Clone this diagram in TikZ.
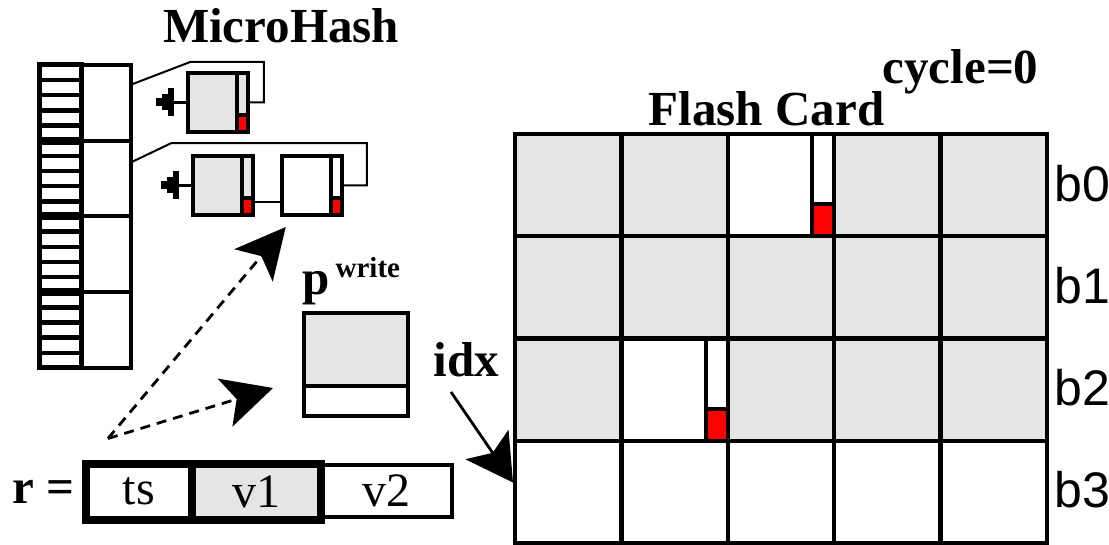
\documentclass[tikz,border=0pt]{standalone}
\usepackage{fontspec}
\setmainfont{Liberation Serif}
\newfontfamily\rowfont{Liberation Sans}
\usetikzlibrary{arrows.meta, calc, positioning}

\definecolor{cellgray}{HTML}{E5E5E5}
\definecolor{flagred}{HTML}{FF0000}

\tikzset{
  heading/.style={font=\fontsize{24.5}{28}\selectfont\bfseries, inner sep=0pt},
  flash/.style={draw, line width=2.2pt, fill=cellgray, minimum width=53.2pt, minimum height=51.15pt, inner sep=0pt, outer sep=0pt},
  bucket/.style={draw, line width=2pt, minimum width=24.75pt, minimum height=37.875pt, inner sep=0pt, outer sep=0pt},
  pagebox/.style={draw, line width=2pt, fill=cellgray, minimum width=30pt, minimum height=29.5pt, inner sep=0pt, outer sep=0pt},
  recfield/.style={draw, line width=4pt, minimum height=28pt, inner sep=0pt, outer sep=0pt, font=\fontsize{24}{28}\selectfont},
  rowlabel/.style={font=\rowfont\fontsize{25}{28}\selectfont, inner sep=0pt},
  chainline/.style={line width=1pt},
  nilbar/.style={line width=3pt},
  fetch/.style={line width=1.4pt, dash pattern=on 5pt off 3.5pt, -{Stealth[length=25pt, width=25pt, inset=6pt]}},
  idxarrow/.style={line width=1.4pt, -{Stealth[length=23pt, width=26pt, inset=5pt]}}
}

\begin{document}
\begin{tikzpicture}[x=0.5pt, y=-0.5pt]
  \fill[white] (0,0) rectangle (1109,545);
  \useasboundingbox (0,0) rectangle (1109,545);

  % Titles
  \node[heading, anchor=base] (mh) at (281,43) {MicroHash};
  \node[heading, anchor=base] (fc) at (766.5,126) {Flash Card};
  \node[heading, anchor=base] (cyc) at (960.5,84) {cycle=0};

  % Flash card: rows b0..b2 used, b3 empty
  \foreach \r in {0,1,2}
    \foreach \c in {0,...,4}
      \node[flash] (c\r\c) at ({568.2+106.4*\c},{185.15+102.3*\r}) {};
  \foreach \c in {0,...,4}
    \node[flash, fill=white] (c3\c) at ({568.2+106.4*\c},{185.15+102.3*3}) {};
  \foreach \r in {0,...,3}
    \node[rowlabel, right=3.5pt of c\r4, yshift=1pt] (lb\r) {b\r};

  % partly written pages with their flag strip
  \foreach \cell in {c02, c21} {
    \draw[line width=2.2pt, fill=white] (\cell.north west) rectangle (\cell.south east);
    \draw[line width=2.2pt] ($(\cell.north east)+(-22,0)$) -- ($(\cell.south east)+(-22,0)$);
    \draw[line width=2pt, fill=flagred] ($(\cell.south east)+(-22,-32)$) rectangle (\cell.south east);
  }

  % Hash directory
  \node[draw, line width=2.5pt, minimum width=20.75pt, minimum height=151.5pt, inner sep=0pt, outer sep=0pt] (keys) at (60.25,216.5) {};
  \foreach \k in {1,...,19}
    \draw[line width=2.2pt] ($(keys.north west)!\k/20!(keys.south west)$) -- ($(keys.north east)!\k/20!(keys.south east)$);
  \foreach \k in {5,10,15}
    \draw[line width=4pt] ($(keys.north west)!\k/20!(keys.south west)$) -- ($(keys.north east)!\k/20!(keys.south east)$);
  \foreach \i in {1,...,4}
    \node[bucket] (h\i) at (105.75,{65+75.75*(\i-0.5)}) {};

  % Index pages
  \node[pagebox] (pgA) at (217.75,102.5) {};
  \node[pagebox] (pgB) at (222.75,185.5) {};
  \node[pagebox, fill=white] (pgC) at (311.75,185.5) {};
  \foreach \p in {pgA,pgB,pgC} {
    \draw[line width=2pt] ($(\p.north east)+(-11,0)$) -- ($(\p.south east)+(-11,0)$);
    \draw[line width=2pt, fill=flagred] ($(\p.south east)+(-11,-17)$) rectangle (\p.south east);
  }
  \foreach \p in {pgA,pgB} {
    \draw[line width=1.3pt] (\p.west) -- ++(-17,0) coordinate (nil\p);
    \draw[nilbar] ($(nil\p)+(0,-14)$) -- ($(nil\p)+(0,14)$);
    \draw[nilbar] ($(nil\p)+(-6,-8)$) -- ($(nil\p)+(-6,8)$);
    \draw[nilbar] ($(nil\p)+(-12,-4)$) -- ($(nil\p)+(-12,4)$);
  }
  \draw[chainline] ($(pgB.east)+(0,17)$) -- ($(pgC.west)+(0,17)$);
  \draw[chainline] ($(h1.east)+(0,-18)$) -- ++(60,-23) -| ($(pgA.east)+(16,0)$) -- (pgA.east);
  \draw[chainline] ($(h2.east)+(0,-16)$) -- ++(41,-19.6) -| ($(pgC.east)+(25,0)$) -- (pgC.east);

  % Write buffer
  \node[draw, line width=2pt, fill=cellgray, minimum width=51.75pt, minimum height=51.5pt, inner sep=0pt, outer sep=0pt] (pbuf) at (355.75,364.5) {};
  \draw[line width=2pt, fill=white] ($(pbuf.south west)+(0,-29.5)$) rectangle (pbuf.south east);
  \node[heading, anchor=base west] (pw) at (302,295) {p\hspace{3pt}\raisebox{8.5pt}{\fontsize{14.5}{16}\selectfont write}};

  % Record
  \node[draw, line width=2pt, minimum width=65.25pt, minimum height=26.25pt, inner sep=0pt, outer sep=0pt, font=\fontsize{24}{28}\selectfont] (v2) at (386.25,490.75) {v2};
  \node[recfield, minimum width=53pt] (ts) at (139,491.5) {ts};
  \node[recfield, minimum width=64.5pt, fill=cellgray] (v1) at (256.5,491.5) {v1};
  \node[heading, left=5.5pt of ts] (req) {r =};

  % Insert paths
  \coordinate (fork) at ($(ts.north west)+(22,-25)$);
  \draw[fetch] (fork) -- ($(pbuf.west)+(-31,23.5)$);
  \draw[fetch] (fork) -- ($(pgC.south west)+(4,12)$);
  \node[heading, anchor=base west] (idx) at (433,377) {idx};
  \draw[idxarrow] ($(idx.base west)+(18,15)$) -- ($(c30.west)+(-2,-9.5)$);
\end{tikzpicture}
\end{document}
